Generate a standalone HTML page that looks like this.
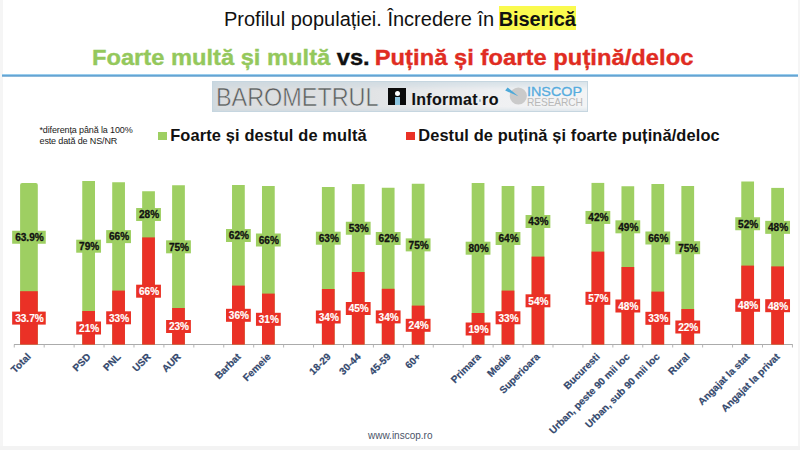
<!DOCTYPE html>
<html><head><meta charset="utf-8"><style>
*{margin:0;padding:0;box-sizing:border-box}
html,body{width:800px;height:450px;overflow:hidden;background:#fff}
body{position:relative;font-family:"Liberation Sans",sans-serif}
.a{position:absolute;white-space:nowrap}
.lb{letter-spacing:0px;font:bold 10.1px "Liberation Sans",sans-serif}
.xl{position:absolute;width:300px;text-align:right;font:bold 10px/12px "Liberation Sans",sans-serif;color:#33486D;-webkit-text-stroke:0.2px #33486D;transform-origin:100% 0;transform:rotate(-45deg);white-space:nowrap}
</style></head><body>
<div class="a" style="left:0;top:0;width:3px;height:450px;background:#F5F5F5"></div>
<div class="a" style="left:797.6px;top:0;width:3px;height:450px;background:#F5F5F5"></div>
<div class="a" style="left:0;top:446px;width:800px;height:4px;background:#F3F3F3"></div>
<div class="a" style="left:498.75px;top:5.5px;width:77.5px;height:24px;background:#FAFA4E"></div>
<div class="a" style="left:224px;top:6.75px;font-size:20px;line-height:24px;color:#111">Profilul populației. Încredere în<b style="margin-left:4.6px;letter-spacing:-0.1px">Biserică</b></div>
<div class="a" style="left:92px;top:45.8px;font-weight:bold;font-size:21.3px;line-height:24px;transform-origin:0 0;transform:scaleX(1.112);-webkit-text-stroke:0.35px"><span style="color:#94C85C">Foarte multă și multă</span> <span style="color:#111">vs.</span> <span style="color:#E02C22;margin-left:-1.4px;letter-spacing:0.05px">Puțină și foarte puțină/deloc</span></div>
<div class="a" style="left:2px;top:73.5px;width:796px;height:3.5px;background:linear-gradient(#C4E6F9,#6DB2E0 35%,#5A98C9 65%,#BCD8EA)"></div>
<div class="a" style="left:211.7px;top:81.2px;width:376.3px;height:30.4px;background:linear-gradient(rgba(196,214,224,0.55),rgba(220,226,230,0) 30%,rgba(220,226,230,0) 85%,rgba(196,214,224,0.4)),linear-gradient(90deg,#CFD9DF,#DADDDF 2%,#DEE0E2 35%,#E6E8EA 55%,#EFF0F2 75%,#F3F4F5);border:1px solid #C6D6E0"></div>
<div class="a" style="left:216px;top:82.8px;font-size:26px;line-height:29px;color:#5C5C5C;transform-origin:0 0;transform:scaleX(0.9);-webkit-text-stroke:0.55px #DEE0E2">BAROMETRUL</div>
<div class="a" style="left:388.3px;top:87.7px;width:17.5px;height:17.1px;background:#0B0B0B"></div>
<div class="a" style="left:394.7px;top:90.7px;width:5.2px;height:5.2px;border-radius:50%;background:#fff"></div>
<div class="a" style="left:395.1px;top:97.1px;width:4.8px;height:7.7px;background:#8CC3DD"></div>
<div class="a" style="left:411.5px;top:89.5px;font-weight:bold;font-size:16px;line-height:20px;color:#111;letter-spacing:0.3px;-webkit-text-stroke:0.1px">Informat</div>
<div class="a" style="left:478.6px;top:99.3px;width:2.9px;height:2.9px;border-radius:50%;background:#98B6C8"></div>
<div class="a" style="left:482px;top:89.5px;font-weight:bold;font-size:16px;line-height:20px;color:#111;letter-spacing:0.6px;-webkit-text-stroke:0.1px">ro</div>
<svg class="a" style="left:0;top:0" width="800" height="450" viewBox="0 0 800 450">
<circle cx="518.3" cy="96" r="8.6" fill="#CACACA"/>
<path d="M505.2,90.6 L507.6,87.4 L518.4,96.2 Z" fill="#4DA9D9"/>
</svg>
<div class="a" style="left:527.2px;top:84.9px;font-size:12.8px;line-height:14px;color:#56ACDE;transform-origin:0 0;transform:scaleX(1.12);-webkit-text-stroke:0.3px #56ACDE">INSCOP</div>
<div class="a" style="left:527px;top:96.5px;font-size:10.2px;line-height:11px;color:#B8B8B8;letter-spacing:-0.1px">RESEARCH</div>
<div class="a" style="left:39.5px;top:125.2px;font-size:9px;line-height:10.4px;color:#1A1A1A;letter-spacing:-0.13px">*diferența până la 100%<br>este dată de NS/NR</div>
<div class="a" style="left:158.3px;top:131.6px;width:8.5px;height:8.4px;background:#9ECF62"></div>
<div class="a" style="left:170.2px;top:126.3px;letter-spacing:0.14px;font-weight:bold;font-size:16.4px;line-height:19px;color:#111">Foarte și destul de multă</div>
<div class="a" style="left:406px;top:131.6px;width:8.7px;height:8.4px;background:#EA3126"></div>
<div class="a" style="left:418.2px;top:126.3px;letter-spacing:0.12px;font-weight:bold;font-size:16.4px;line-height:19px;color:#111">Destul de puțină și foarte puțină/deloc</div>
<svg class="a" style="left:0;top:0" width="800" height="450" viewBox="0 0 800 450">
<line x1="14" y1="344.5" x2="792.8" y2="344.5" stroke="#ABABAB" stroke-width="1"/><line x1="14.25" y1="344.5" x2="14.25" y2="347.5" stroke="#B5B5B5" stroke-width="1"/><line x1="44.18" y1="344.5" x2="44.18" y2="347.5" stroke="#B5B5B5" stroke-width="1"/><line x1="74.11" y1="344.5" x2="74.11" y2="347.5" stroke="#B5B5B5" stroke-width="1"/><line x1="104.04" y1="344.5" x2="104.04" y2="347.5" stroke="#B5B5B5" stroke-width="1"/><line x1="133.97" y1="344.5" x2="133.97" y2="347.5" stroke="#B5B5B5" stroke-width="1"/><line x1="163.90" y1="344.5" x2="163.90" y2="347.5" stroke="#B5B5B5" stroke-width="1"/><line x1="193.83" y1="344.5" x2="193.83" y2="347.5" stroke="#B5B5B5" stroke-width="1"/><line x1="223.76" y1="344.5" x2="223.76" y2="347.5" stroke="#B5B5B5" stroke-width="1"/><line x1="253.69" y1="344.5" x2="253.69" y2="347.5" stroke="#B5B5B5" stroke-width="1"/><line x1="283.62" y1="344.5" x2="283.62" y2="347.5" stroke="#B5B5B5" stroke-width="1"/><line x1="313.55" y1="344.5" x2="313.55" y2="347.5" stroke="#B5B5B5" stroke-width="1"/><line x1="343.48" y1="344.5" x2="343.48" y2="347.5" stroke="#B5B5B5" stroke-width="1"/><line x1="373.41" y1="344.5" x2="373.41" y2="347.5" stroke="#B5B5B5" stroke-width="1"/><line x1="403.34" y1="344.5" x2="403.34" y2="347.5" stroke="#B5B5B5" stroke-width="1"/><line x1="433.27" y1="344.5" x2="433.27" y2="347.5" stroke="#B5B5B5" stroke-width="1"/><line x1="463.20" y1="344.5" x2="463.20" y2="347.5" stroke="#B5B5B5" stroke-width="1"/><line x1="493.13" y1="344.5" x2="493.13" y2="347.5" stroke="#B5B5B5" stroke-width="1"/><line x1="523.06" y1="344.5" x2="523.06" y2="347.5" stroke="#B5B5B5" stroke-width="1"/><line x1="552.99" y1="344.5" x2="552.99" y2="347.5" stroke="#B5B5B5" stroke-width="1"/><line x1="582.92" y1="344.5" x2="582.92" y2="347.5" stroke="#B5B5B5" stroke-width="1"/><line x1="612.85" y1="344.5" x2="612.85" y2="347.5" stroke="#B5B5B5" stroke-width="1"/><line x1="642.78" y1="344.5" x2="642.78" y2="347.5" stroke="#B5B5B5" stroke-width="1"/><line x1="672.71" y1="344.5" x2="672.71" y2="347.5" stroke="#B5B5B5" stroke-width="1"/><line x1="702.64" y1="344.5" x2="702.64" y2="347.5" stroke="#B5B5B5" stroke-width="1"/><line x1="732.57" y1="344.5" x2="732.57" y2="347.5" stroke="#B5B5B5" stroke-width="1"/><line x1="762.50" y1="344.5" x2="762.50" y2="347.5" stroke="#B5B5B5" stroke-width="1"/><line x1="792.43" y1="344.5" x2="792.43" y2="347.5" stroke="#B5B5B5" stroke-width="1"/><path d="M20.1,344.6 V184.9 Q20.1,182.9 22.1,182.9 H35.8 Q37.8,182.9 37.8,184.9 V344.6 Z" fill="#9ECF62"/><rect x="20.10" y="291.2" width="17.7" height="53.40" fill="#EA3126"/><rect x="12.15" y="230.75" width="33.6" height="13" fill="#9ECF62"/><text x="29.45" y="241.05" text-anchor="middle" class="lb" fill="#111" stroke="#111" stroke-width="0.3">63.9%</text><rect x="12.15" y="311.60" width="33.6" height="13" fill="#EA3126"/><text x="29.45" y="321.90" text-anchor="middle" class="lb" fill="#fff" stroke="#fff" stroke-width="0.15">33.7%</text><rect x="82.25" y="181" width="12.75" height="163.60" fill="#9ECF62"/><rect x="82.25" y="311" width="12.75" height="33.60" fill="#EA3126"/><rect x="76.22" y="239.70" width="24.8" height="13" fill="#9ECF62"/><text x="89.12" y="250.00" text-anchor="middle" class="lb" fill="#111" stroke="#111" stroke-width="0.3">79%</text><rect x="76.22" y="321.50" width="24.8" height="13" fill="#EA3126"/><text x="89.12" y="331.80" text-anchor="middle" class="lb" fill="#fff" stroke="#fff" stroke-width="0.15">21%</text><rect x="112.21" y="182.25" width="12.75" height="162.35" fill="#9ECF62"/><rect x="112.21" y="290.6" width="12.75" height="54.00" fill="#EA3126"/><rect x="106.18" y="230.12" width="24.8" height="13" fill="#9ECF62"/><text x="119.08" y="240.43" text-anchor="middle" class="lb" fill="#111" stroke="#111" stroke-width="0.3">66%</text><rect x="106.18" y="311.30" width="24.8" height="13" fill="#EA3126"/><text x="119.08" y="321.60" text-anchor="middle" class="lb" fill="#fff" stroke="#fff" stroke-width="0.15">33%</text><rect x="142.16" y="191.25" width="12.75" height="153.35" fill="#9ECF62"/><rect x="142.16" y="237.4" width="12.75" height="107.20" fill="#EA3126"/><rect x="136.14" y="208.02" width="24.8" height="13" fill="#9ECF62"/><text x="149.04" y="218.32" text-anchor="middle" class="lb" fill="#111" stroke="#111" stroke-width="0.3">28%</text><rect x="136.14" y="284.70" width="24.8" height="13" fill="#EA3126"/><text x="149.04" y="295.00" text-anchor="middle" class="lb" fill="#fff" stroke="#fff" stroke-width="0.15">66%</text><rect x="172.12" y="185.25" width="12.75" height="159.35" fill="#9ECF62"/><rect x="172.12" y="308" width="12.75" height="36.60" fill="#EA3126"/><rect x="166.09" y="240.32" width="24.8" height="13" fill="#9ECF62"/><text x="178.99" y="250.62" text-anchor="middle" class="lb" fill="#111" stroke="#111" stroke-width="0.3">75%</text><rect x="166.09" y="320.00" width="24.8" height="13" fill="#EA3126"/><text x="178.99" y="330.30" text-anchor="middle" class="lb" fill="#fff" stroke="#fff" stroke-width="0.15">23%</text><rect x="232.03" y="185" width="12.75" height="159.60" fill="#9ECF62"/><rect x="232.03" y="285.6" width="12.75" height="59.00" fill="#EA3126"/><rect x="226.00" y="229.00" width="24.8" height="13" fill="#9ECF62"/><text x="238.91" y="239.30" text-anchor="middle" class="lb" fill="#111" stroke="#111" stroke-width="0.3">62%</text><rect x="226.00" y="308.80" width="24.8" height="13" fill="#EA3126"/><text x="238.91" y="319.10" text-anchor="middle" class="lb" fill="#fff" stroke="#fff" stroke-width="0.15">36%</text><rect x="261.99" y="186" width="12.75" height="158.60" fill="#9ECF62"/><rect x="261.99" y="293.6" width="12.75" height="51.00" fill="#EA3126"/><rect x="255.96" y="233.50" width="24.8" height="13" fill="#9ECF62"/><text x="268.86" y="243.80" text-anchor="middle" class="lb" fill="#111" stroke="#111" stroke-width="0.3">66%</text><rect x="255.96" y="312.80" width="24.8" height="13" fill="#EA3126"/><text x="268.86" y="323.10" text-anchor="middle" class="lb" fill="#fff" stroke="#fff" stroke-width="0.15">31%</text><rect x="321.90" y="187" width="12.75" height="157.60" fill="#9ECF62"/><rect x="321.90" y="289" width="12.75" height="55.60" fill="#EA3126"/><rect x="315.87" y="231.70" width="24.8" height="13" fill="#9ECF62"/><text x="328.77" y="242.00" text-anchor="middle" class="lb" fill="#111" stroke="#111" stroke-width="0.3">63%</text><rect x="315.87" y="310.50" width="24.8" height="13" fill="#EA3126"/><text x="328.77" y="320.80" text-anchor="middle" class="lb" fill="#fff" stroke="#fff" stroke-width="0.15">34%</text><rect x="351.85" y="184.1" width="12.75" height="160.50" fill="#9ECF62"/><rect x="351.85" y="272" width="12.75" height="72.60" fill="#EA3126"/><rect x="345.83" y="221.75" width="24.8" height="13" fill="#9ECF62"/><text x="358.73" y="232.05" text-anchor="middle" class="lb" fill="#111" stroke="#111" stroke-width="0.3">53%</text><rect x="345.83" y="302.00" width="24.8" height="13" fill="#EA3126"/><text x="358.73" y="312.30" text-anchor="middle" class="lb" fill="#fff" stroke="#fff" stroke-width="0.15">45%</text><rect x="381.81" y="187.75" width="12.75" height="156.85" fill="#9ECF62"/><rect x="381.81" y="288.8" width="12.75" height="55.80" fill="#EA3126"/><rect x="375.79" y="231.97" width="24.8" height="13" fill="#9ECF62"/><text x="388.69" y="242.28" text-anchor="middle" class="lb" fill="#111" stroke="#111" stroke-width="0.3">62%</text><rect x="375.79" y="310.40" width="24.8" height="13" fill="#EA3126"/><text x="388.69" y="320.70" text-anchor="middle" class="lb" fill="#fff" stroke="#fff" stroke-width="0.15">34%</text><rect x="411.77" y="183.75" width="12.75" height="160.85" fill="#9ECF62"/><rect x="411.77" y="305.6" width="12.75" height="39.00" fill="#EA3126"/><rect x="405.74" y="238.38" width="24.8" height="13" fill="#9ECF62"/><text x="418.64" y="248.68" text-anchor="middle" class="lb" fill="#111" stroke="#111" stroke-width="0.3">75%</text><rect x="405.74" y="318.80" width="24.8" height="13" fill="#EA3126"/><text x="418.64" y="329.10" text-anchor="middle" class="lb" fill="#fff" stroke="#fff" stroke-width="0.15">24%</text><rect x="471.68" y="183" width="12.75" height="161.60" fill="#9ECF62"/><rect x="471.68" y="313" width="12.75" height="31.60" fill="#EA3126"/><rect x="465.65" y="241.70" width="24.8" height="13" fill="#9ECF62"/><text x="478.55" y="252.00" text-anchor="middle" class="lb" fill="#111" stroke="#111" stroke-width="0.3">80%</text><rect x="465.65" y="322.50" width="24.8" height="13" fill="#EA3126"/><text x="478.55" y="332.80" text-anchor="middle" class="lb" fill="#fff" stroke="#fff" stroke-width="0.15">19%</text><rect x="501.63" y="186" width="12.75" height="158.60" fill="#9ECF62"/><rect x="501.63" y="290.6" width="12.75" height="54.00" fill="#EA3126"/><rect x="495.61" y="232.00" width="24.8" height="13" fill="#9ECF62"/><text x="508.51" y="242.30" text-anchor="middle" class="lb" fill="#111" stroke="#111" stroke-width="0.3">64%</text><rect x="495.61" y="311.30" width="24.8" height="13" fill="#EA3126"/><text x="508.51" y="321.60" text-anchor="middle" class="lb" fill="#fff" stroke="#fff" stroke-width="0.15">33%</text><rect x="531.59" y="186" width="12.75" height="158.60" fill="#9ECF62"/><rect x="531.59" y="256.6" width="12.75" height="88.00" fill="#EA3126"/><rect x="525.56" y="215.00" width="24.8" height="13" fill="#9ECF62"/><text x="538.46" y="225.30" text-anchor="middle" class="lb" fill="#111" stroke="#111" stroke-width="0.3">43%</text><rect x="525.56" y="294.30" width="24.8" height="13" fill="#EA3126"/><text x="538.46" y="304.60" text-anchor="middle" class="lb" fill="#fff" stroke="#fff" stroke-width="0.15">54%</text><rect x="591.50" y="182.9" width="12.75" height="161.70" fill="#9ECF62"/><rect x="591.50" y="251.6" width="12.75" height="93.00" fill="#EA3126"/><rect x="585.48" y="210.95" width="24.8" height="13" fill="#9ECF62"/><text x="598.38" y="221.25" text-anchor="middle" class="lb" fill="#111" stroke="#111" stroke-width="0.3">42%</text><rect x="585.48" y="291.80" width="24.8" height="13" fill="#EA3126"/><text x="598.38" y="302.10" text-anchor="middle" class="lb" fill="#fff" stroke="#fff" stroke-width="0.15">57%</text><rect x="621.46" y="186.25" width="12.75" height="158.35" fill="#9ECF62"/><rect x="621.46" y="267" width="12.75" height="77.60" fill="#EA3126"/><rect x="615.43" y="220.32" width="24.8" height="13" fill="#9ECF62"/><text x="628.33" y="230.62" text-anchor="middle" class="lb" fill="#111" stroke="#111" stroke-width="0.3">49%</text><rect x="615.43" y="299.50" width="24.8" height="13" fill="#EA3126"/><text x="628.33" y="309.80" text-anchor="middle" class="lb" fill="#fff" stroke="#fff" stroke-width="0.15">48%</text><rect x="651.41" y="184" width="12.75" height="160.60" fill="#9ECF62"/><rect x="651.41" y="291.6" width="12.75" height="53.00" fill="#EA3126"/><rect x="645.39" y="231.50" width="24.8" height="13" fill="#9ECF62"/><text x="658.29" y="241.80" text-anchor="middle" class="lb" fill="#111" stroke="#111" stroke-width="0.3">66%</text><rect x="645.39" y="311.80" width="24.8" height="13" fill="#EA3126"/><text x="658.29" y="322.10" text-anchor="middle" class="lb" fill="#fff" stroke="#fff" stroke-width="0.15">33%</text><rect x="681.37" y="186" width="12.75" height="158.60" fill="#9ECF62"/><rect x="681.37" y="309" width="12.75" height="35.60" fill="#EA3126"/><rect x="675.35" y="241.20" width="24.8" height="13" fill="#9ECF62"/><text x="688.25" y="251.50" text-anchor="middle" class="lb" fill="#111" stroke="#111" stroke-width="0.3">75%</text><rect x="675.35" y="320.50" width="24.8" height="13" fill="#EA3126"/><text x="688.25" y="330.80" text-anchor="middle" class="lb" fill="#fff" stroke="#fff" stroke-width="0.15">22%</text><rect x="741.28" y="181.5" width="12.75" height="163.10" fill="#9ECF62"/><rect x="741.28" y="265.6" width="12.75" height="79.00" fill="#EA3126"/><rect x="735.26" y="217.25" width="24.8" height="13" fill="#9ECF62"/><text x="748.16" y="227.55" text-anchor="middle" class="lb" fill="#111" stroke="#111" stroke-width="0.3">52%</text><rect x="735.26" y="298.80" width="24.8" height="13" fill="#EA3126"/><text x="748.16" y="309.10" text-anchor="middle" class="lb" fill="#fff" stroke="#fff" stroke-width="0.15">48%</text><rect x="771.24" y="187.9" width="12.75" height="156.70" fill="#9ECF62"/><rect x="771.24" y="266.4" width="12.75" height="78.20" fill="#EA3126"/><rect x="765.21" y="220.85" width="24.8" height="13" fill="#9ECF62"/><text x="778.11" y="231.15" text-anchor="middle" class="lb" fill="#111" stroke="#111" stroke-width="0.3">48%</text><rect x="765.21" y="299.20" width="24.8" height="13" fill="#EA3126"/><text x="778.11" y="309.50" text-anchor="middle" class="lb" fill="#fff" stroke="#fff" stroke-width="0.15">48%</text>
</svg>
<div class="xl" style="left:-274.55px;top:351.00px">Total</div><div class="xl" style="left:-214.88px;top:351.00px">PSD</div><div class="xl" style="left:-184.92px;top:351.00px">PNL</div><div class="xl" style="left:-154.96px;top:351.00px">USR</div><div class="xl" style="left:-125.01px;top:351.00px">AUR</div><div class="xl" style="left:-65.09px;top:351.00px">Barbat</div><div class="xl" style="left:-35.14px;top:351.00px">Femeie</div><div class="xl" style="left:24.77px;top:351.00px">18-29</div><div class="xl" style="left:54.73px;top:351.00px">30-44</div><div class="xl" style="left:84.69px;top:351.00px">45-59</div><div class="xl" style="left:114.64px;top:351.00px">60+</div><div class="xl" style="left:174.55px;top:351.00px">Primara</div><div class="xl" style="left:204.51px;top:351.00px">Medie</div><div class="xl" style="left:234.46px;top:351.00px">Superioara</div><div class="xl" style="left:294.38px;top:351.00px">Bucuresti</div><div class="xl" style="left:324.33px;top:351.00px">Urban, peste 90 mii loc</div><div class="xl" style="left:354.29px;top:351.00px">Urban, sub 90 mii loc</div><div class="xl" style="left:384.25px;top:351.00px">Rural</div><div class="xl" style="left:444.16px;top:351.00px">Angajat la stat</div><div class="xl" style="left:474.11px;top:351.00px">Angajat la privat</div>
<div class="a" style="left:368px;top:429.5px;font-size:10px;line-height:12px;color:#4A5368">www.inscop.ro</div>
</body></html>
